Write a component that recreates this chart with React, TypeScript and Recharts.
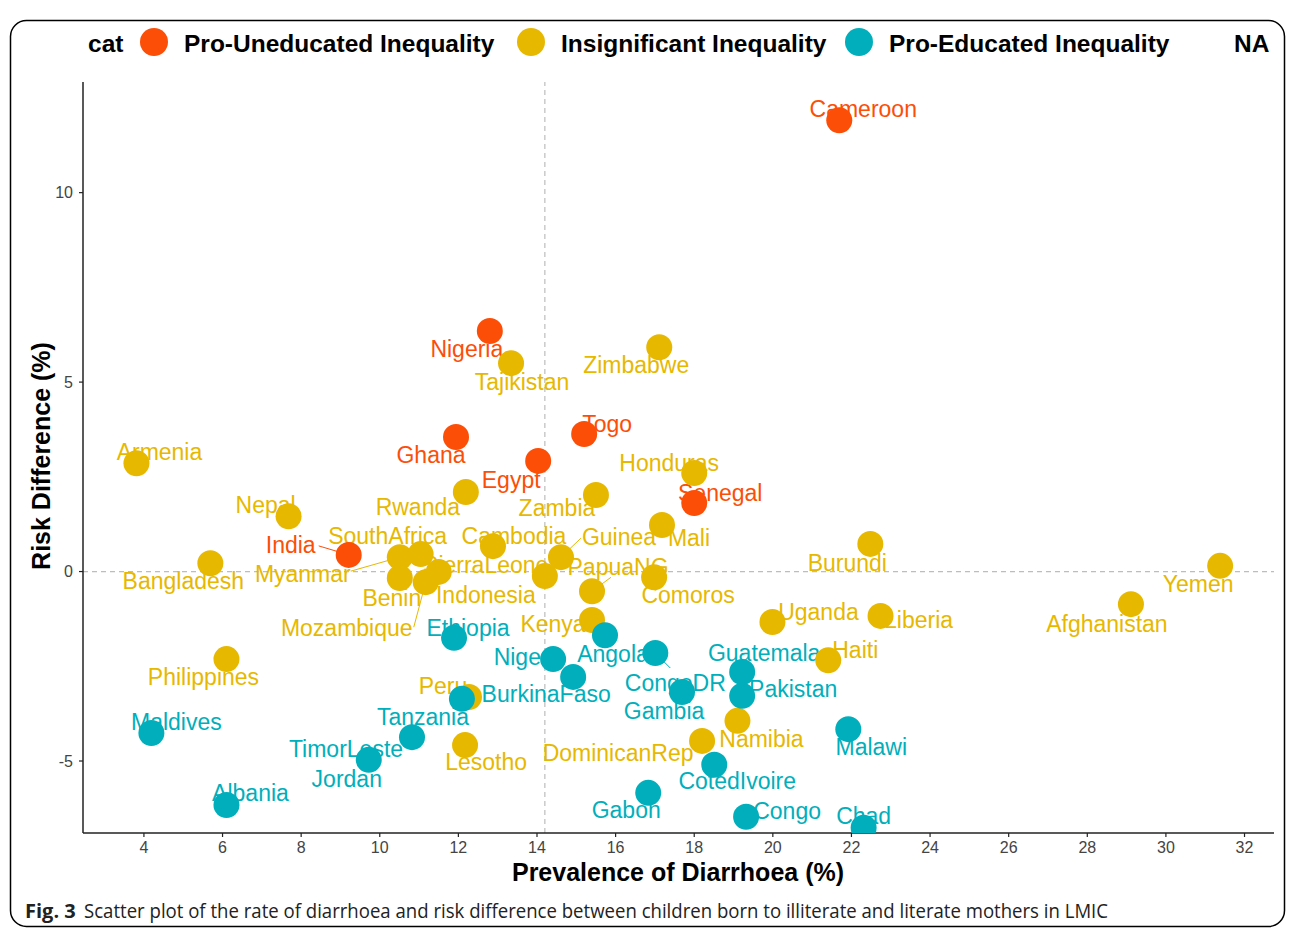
import React from 'react';
import { ScatterChart, Scatter, XAxis, YAxis, ReferenceLine } from 'recharts';

// ---------- DATA ----------
const proUneducatedNames = ['Cameroon', 'Nigeria', 'Ghana', 'Egypt', 'Togo', 'Senegal', 'India'];
const proUneducatedPrev = [21.69, 12.8, 11.94, 14.03, 15.2, 18.0, 9.21];
const proUneducatedRisk = [11.91, 6.35, 3.55, 2.92, 3.63, 1.81, 0.44];

const insignificantNames = [
  'Zimbabwe', 'Tajikistan', 'Armenia', 'Honduras', 'Rwanda', 'Zambia', 'Nepal', 'Mali', 'Cambodia',
  'Burundi', 'Guinea', 'Bangladesh', 'Yemen', 'Myanmar', 'SouthAfrica', 'SierraLeone', 'Benin',
  'Mozambique', 'Indonesia', 'PapuaNG', 'Comoros', 'Kenya', 'Uganda', 'Liberia', 'Afghanistan',
  'Haiti', 'Philippines', 'Peru', 'Lesotho', 'Namibia', 'DominicanRep',
];
const insignificantPrev = [
  17.11, 13.34, 3.81, 18.0, 12.19, 15.5, 7.68, 17.18, 12.88,
  22.48, 14.61, 5.69, 31.38, 10.51, 11.04, 11.5, 10.51,
  11.17, 14.2, 15.4, 16.98, 15.4, 19.99, 22.74, 29.11,
  21.41, 6.1, 12.27, 12.17, 19.1, 18.2,
];
const insignificantRisk = [
  5.92, 5.5, 2.86, 2.6, 2.1, 2.02, 1.46, 1.23, 0.67,
  0.73, 0.38, 0.22, 0.15, 0.38, 0.46, -0.01, -0.17,
  -0.28, -0.12, -0.52, -0.15, -1.28, -1.33, -1.17, -0.86,
  -2.34, -2.31, -3.31, -4.58, -3.94, -4.47,
];

const proEducatedNames = [
  'Ethiopia', 'Angola', 'Niger', 'BurkinaFaso', 'CongoDR', 'Tanzania', 'Gambia', 'Guatemala',
  'Pakistan', 'Malawi', 'TimorLeste', 'Jordan', 'Maldives', 'Albania', 'Gabon', 'CotedIvoire',
  'Congo', 'Chad',
];
const proEducatedPrev = [
  11.89, 15.73, 14.41, 14.92, 17.01, 12.09, 17.69, 19.22,
  19.22, 21.92, 10.82, 9.72, 4.19, 6.1, 16.83, 18.51,
  19.32, 22.31,
];
const proEducatedRisk = [
  -1.75, -1.68, -2.31, -2.78, -2.15, -3.36, -3.18, -2.65,
  -3.28, -4.16, -4.37, -4.97, -4.26, -6.16, -5.84, -5.1,
  -6.47, -6.76,
];

const xTicks = [4, 6, 8, 10, 12, 14, 16, 18, 20, 22, 24, 26, 28, 30, 32];
const yTicks = [-5, 0, 5, 10];
const meanPrevalence = 14.2;

const legendTitle = 'cat';
const categoryNames = ['Pro-Uneducated Inequality', 'Insignificant Inequality', 'Pro-Educated Inequality'];
const naLabel = 'NA';
const xTitle = 'Prevalence of Diarrhoea (%)';
const yTitle = 'Risk Difference (%)';
const captionBold = 'Fig. 3';
const captionText =
  'Scatter plot of the rate of diarrhoea and risk difference between children born to illiterate and literate mothers in LMIC';

// ---------- STYLE / LAYOUT ----------
const COLORS = ['#FC4E07', '#E7B800', '#00AFBB'];
const LABEL_FONT = "'Liberation Sans', Arial, Helvetica, sans-serif";

// label offsets (pixels, text centre relative to point centre)
const labelOffsets: Record<string, [number, number]> = {
  Cameroon: [24, -11], Nigeria: [-23, 18], Ghana: [-25, 18], Egypt: [-27, 19], Togo: [23, -10],
  Senegal: [26, -10], India: [-58, -10],
  Zimbabwe: [-23, 18], Tajikistan: [11, 19], Armenia: [23, -11], Honduras: [-25, -10], Rwanda: [-48, 15],
  Zambia: [-39, 13], Nepal: [-23, -11], Mali: [27, 13], Cambodia: [21, -10], Burundi: [-23, 19],
  Guinea: [58, -20], Bangladesh: [-27, 18], Yemen: [-22, 18], Myanmar: [-97, 17], SouthAfrica: [-33, -18],
  SierraLeone: [47, -7], Benin: [-8, 20], Mozambique: [-79, 46], Indonesia: [-59, 19], PapuaNG: [26, -24],
  Comoros: [34, 18], Kenya: [-39, 4], Uganda: [46, -10], Liberia: [38, 4], Afghanistan: [-24, 20],
  Haiti: [27, -10], Philippines: [-23, 18], Peru: [-26, -11], Lesotho: [21, 17], Namibia: [24, 18],
  DominicanRep: [-84, 12],
  Ethiopia: [14, -10], Angola: [8, 19], Niger: [-32, -2], BurkinaFaso: [-27, 17], CongoDR: [20, 30],
  Tanzania: [-39, 18], Gambia: [-18, 19], Guatemala: [22, -19], Pakistan: [51, -7], Malawi: [23, 18],
  TimorLeste: [-66, 12], Jordan: [-22, 19], Maldives: [25, -11], Albania: [24, -12], Gabon: [-22, 17],
  CotedIvoire: [23, 16], Congo: [41, -6], Chad: [0, -12],
};
// connector segment ends (relative to point centre)
const connectors: Record<string, [number, number]> = {
  India: [-30, -9], Guinea: [20, -19], Myanmar: [-49, 14], Mozambique: [-12, 45], PapuaNG: [19, -14],
  CongoDR: [15, 15],
};

type Pt = { name: string; x: number; y: number };
const build = (n: string[], xs: number[], ys: number[]): Pt[] =>
  n.map((name, i) => ({ name, x: xs[i], y: ys[i] }));

const proUneducatedData = build(proUneducatedNames, proUneducatedPrev, proUneducatedRisk);
const insignificantData = build(insignificantNames, insignificantPrev, insignificantRisk);
const proEducatedData = build(proEducatedNames, proEducatedPrev, proEducatedRisk);

const makeLabelShape = (color: string) => (props: any) => {
  const { cx, cy, payload } = props;
  if (cx == null || cy == null || !payload) return <g />;
  const off = labelOffsets[payload.name] || [0, -18];
  const con = connectors[payload.name];
  return (
    <g>
      {con && (
        <line x1={cx} y1={cy} x2={cx + con[0]} y2={cy + con[1]} stroke={color} strokeWidth={1} />
      )}
      <text
        x={cx + off[0]}
        y={cy + off[1]}
        textAnchor="middle"
        dominantBaseline="central"
        fill={color}
        fontSize={23}
        fontFamily={LABEL_FONT}
      >
        {payload.name}
      </text>
    </g>
  );
};

const makePointShape = (color: string) => (props: any) => {
  const { cx, cy } = props;
  if (cx == null || cy == null) return <g />;
  return <circle cx={cx} cy={cy} r={13} fill={color} />;
};

export default function App() {
  return (
    <div
      style={{
        position: 'absolute',
        left: 0,
        top: 0,
        width: 1292,
        height: 929,
        background: '#fff',
        overflow: 'hidden',
      }}
    >
      <svg
        width={1292}
        height={929}
        style={{ position: 'absolute', left: 0, top: 0 }}
      >
        <rect x={10.5} y={20.5} width={1274} height={906} rx={16} ry={16} fill="none" stroke="#000" strokeWidth={1.5} />
        {/* legend */}
        <g fontFamily={LABEL_FONT} fontWeight="bold" fontSize={24.5} fill="#000">
          <text x={88} y={52}>{legendTitle}</text>
          <circle cx={154} cy={42} r={14} fill={COLORS[0]} />
          <text x={184} y={52}>{categoryNames[0]}</text>
          <circle cx={531} cy={42} r={14} fill={COLORS[1]} />
          <text x={561} y={52}>{categoryNames[1]}</text>
          <circle cx={859} cy={42} r={14} fill={COLORS[2]} />
          <text x={889} y={52}>{categoryNames[2]}</text>
          <text x={1234} y={52}>{naLabel}</text>
        </g>
        {/* axis titles */}
        <text x={678} y={881} textAnchor="middle" fontFamily={LABEL_FONT} fontWeight="bold" fontSize={25} fill="#000">
          {xTitle}
        </text>
        <text
          x={0}
          y={0}
          transform="translate(50,456) rotate(-90)"
          textAnchor="middle"
          fontFamily={LABEL_FONT}
          fontWeight="bold"
          fontSize={25}
          fill="#000"
        >
          {yTitle}
        </text>
        {/* caption */}
        <text x={25} y={918} fontFamily="'Open Sans', 'Noto Sans', sans-serif" fontWeight="bold" fontSize={20} fill="#222">
          {captionBold}
        </text>
        <text
          x={84}
          y={918}
          fontFamily="'Open Sans', 'Noto Sans', sans-serif"
          fontSize={20}
          fill="#222"
          textLength={1024}
          lengthAdjust="spacingAndGlyphs"
        >
          {captionText}
        </text>
      </svg>
      <div style={{ position: 'absolute', left: 0, top: 0 }}>
        <ScatterChart width={1292} height={929} margin={{ top: 82, right: 18, bottom: 56, left: 0 }}>
          <XAxis
            type="number"
            dataKey="x"
            domain={[2.45, 32.75]}
            ticks={xTicks}
            allowDataOverflow
            height={40}
            tickSize={4}
            tickMargin={5}
            axisLine={{ stroke: '#222', strokeWidth: 1.5 }}
            tickLine={{ stroke: '#222', strokeWidth: 1.2 }}
            tick={{ fill: '#444', fontSize: 16, fontFamily: LABEL_FONT }}
          />
          <YAxis
            type="number"
            dataKey="y"
            domain={[-6.9, 12.92]}
            ticks={yTicks}
            allowDataOverflow
            width={83}
            tickSize={4}
            tickMargin={6}
            axisLine={{ stroke: '#222', strokeWidth: 1.5 }}
            tickLine={{ stroke: '#222', strokeWidth: 1.2 }}
            tick={{ fill: '#444', fontSize: 16, fontFamily: LABEL_FONT }}
          />
          <ReferenceLine x={meanPrevalence} stroke="#BDBDBD" strokeDasharray="5 4" strokeWidth={1.2} />
          <ReferenceLine y={0} stroke="#BDBDBD" strokeDasharray="5 4" strokeWidth={1.2} />
          <Scatter data={insignificantData} shape={makeLabelShape(COLORS[1])} isAnimationActive={false} />
          <Scatter data={proEducatedData} shape={makeLabelShape(COLORS[2])} isAnimationActive={false} />
          <Scatter data={proUneducatedData} shape={makeLabelShape(COLORS[0])} isAnimationActive={false} />
          <Scatter data={insignificantData} shape={makePointShape(COLORS[1])} isAnimationActive={false} />
          <Scatter data={proEducatedData} shape={makePointShape(COLORS[2])} isAnimationActive={false} />
          <Scatter data={proUneducatedData} shape={makePointShape(COLORS[0])} isAnimationActive={false} />
        </ScatterChart>
      </div>
    </div>
  );
}
